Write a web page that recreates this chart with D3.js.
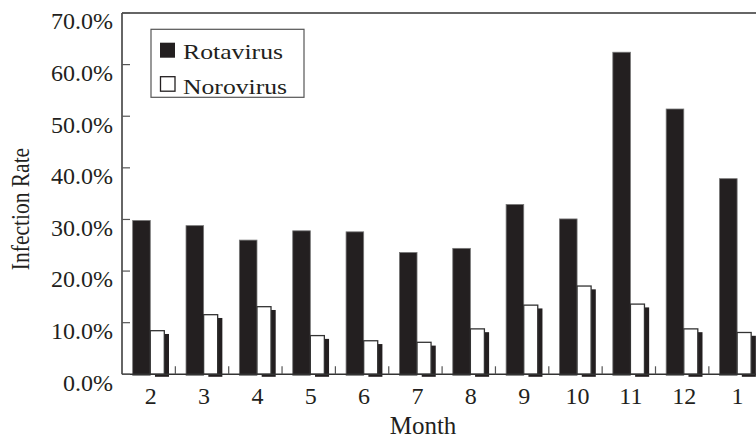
<!DOCTYPE html>
<html>
<head>
<meta charset="utf-8">
<script src="https://cdn.jsdelivr.net/npm/d3@7"></script>
<style>
html,body{margin:0;padding:0;background:#fff;}
svg{display:block;}
text{font-family:"Liberation Serif","Times New Roman",serif;fill:#231f20;}
</style>
</head>
<body>
<svg id="chart" width="756" height="439"></svg>
<script>
const months = ["2","3","4","5","6","7","8","9","10","11","12","1"];
const rotavirus = [29.8, 28.8, 26.0, 27.8, 27.6, 23.6, 24.4, 32.9, 30.1, 62.4, 51.4, 37.9];
const norovirus = [8.45, 11.55, 13.1, 7.5, 6.5, 6.2, 8.8, 13.4, 17.1, 13.6, 8.8, 8.1];
const yTicks = [0, 10, 20, 30, 40, 50, 60, 70];
const seriesNames = ["Rotavirus", "Norovirus"];

(function () {
const svg = d3.select("#chart");
const pLeft = 122, pTop = 13, pBottom = 374.3, pRight = 762.2;
const fs = 24;

const x = d3.scaleBand().domain(months).range([pLeft, pRight]).padding(0);
const y = d3.scaleLinear().domain([0, 70]).range([pBottom, pTop]);
const bw = x.bandwidth();
const dark = "#231f20";

const g = svg.append("g");
months.forEach((m, i) => {
  const x0 = x(m);
  g.append("rect")
    .attr("x", x0 + bw * 0.2).attr("y", y(rotavirus[i]))
    .attr("width", bw * 0.33).attr("height", pBottom - y(rotavirus[i]) + 1)
    .attr("fill", dark).attr("stroke", "#777").attr("stroke-width", 0.8);
  const wx = x0 + bw * 0.53, ww = bw * 0.263, sh = bw * 0.088;
  g.append("rect")
    .attr("x", wx + sh).attr("y", y(norovirus[i]) + 3.3)
    .attr("width", ww).attr("height", pBottom - y(norovirus[i]) - 3.3 + 2.5)
    .attr("fill", dark);
  g.append("rect")
    .attr("x", wx).attr("y", y(norovirus[i]))
    .attr("width", ww).attr("height", pBottom - y(norovirus[i]))
    .attr("fill", "#fff").attr("stroke", "#333").attr("stroke-width", 1.3);
});

svg.append("line").attr("x1", pLeft).attr("x2", 756).attr("y1", pTop).attr("y2", pTop)
  .attr("stroke", "#333").attr("stroke-width", 1.5);
svg.append("line").attr("x1", pLeft).attr("x2", pLeft).attr("y1", pTop).attr("y2", pBottom)
  .attr("stroke", "#333").attr("stroke-width", 1.5);
svg.append("line").attr("x1", pLeft).attr("x2", 756).attr("y1", pBottom).attr("y2", pBottom)
  .attr("stroke", "#333").attr("stroke-width", 1.5);

yTicks.forEach(t => {
  svg.append("line").attr("x1", pLeft).attr("x2", pLeft + 8).attr("y1", y(t)).attr("y2", y(t))
    .attr("stroke", "#555").attr("stroke-width", 1.2);
  svg.append("text").attr("x", 113).attr("y", y(t) + 16.4)
    .attr("text-anchor", "end").attr("font-size", fs).text(t.toFixed(1) + "%");
});

months.forEach((m, i) => {
  if (i > 0) {
    const xb = x(m);
    svg.append("line").attr("x1", xb).attr("x2", xb).attr("y1", pBottom).attr("y2", pBottom - 8)
      .attr("stroke", "#555").attr("stroke-width", 1.2);
  }
  svg.append("text").attr("x", x(m) + bw / 2 + 2).attr("y", 404.3)
    .attr("text-anchor", "middle").attr("font-size", fs).text(m);
});

svg.append("text").attr("x", 423).attr("y", 434).attr("text-anchor", "middle")
  .attr("font-size", 25).text("Month");
svg.append("text").attr("transform", "translate(29.3,209) rotate(-90) scale(1,1.2)")
  .attr("text-anchor", "middle").attr("font-size", 21.5).text("Infection Rate");

const lg = svg.append("g");
lg.append("rect").attr("x", 151).attr("y", 29.3).attr("width", 153).attr("height", 68)
  .attr("fill", "#fff").attr("stroke", "#555").attr("stroke-width", 1.2);
lg.append("rect").attr("x", 160).attr("y", 42.7).attr("width", 15).attr("height", 15)
  .attr("fill", dark);
lg.append("rect").attr("x", 160.5).attr("y", 76.7).attr("width", 14.5).attr("height", 14.5)
  .attr("fill", "#fff").attr("stroke", dark).attr("stroke-width", 1.3);
lg.append("text").attr("x", 183).attr("y", 59).attr("font-size", 21)
  .attr("textLength", 100).attr("lengthAdjust", "spacingAndGlyphs").text(seriesNames[0]);
lg.append("text").attr("x", 183).attr("y", 94).attr("font-size", 21)
  .attr("textLength", 104).attr("lengthAdjust", "spacingAndGlyphs").text(seriesNames[1]);
})();
</script>
</body>
</html>
